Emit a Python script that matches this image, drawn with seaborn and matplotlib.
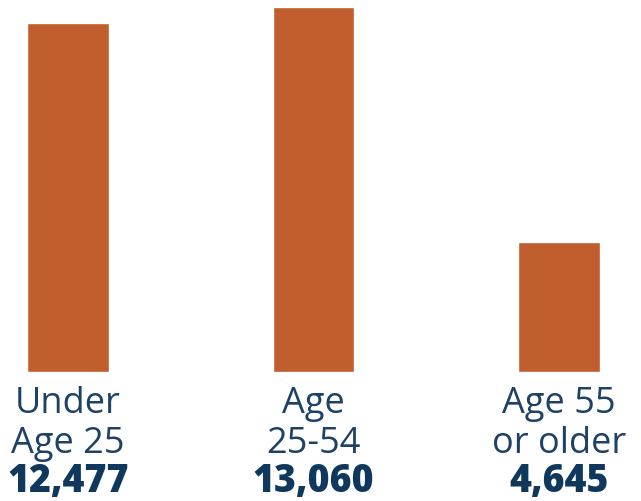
import pandas as pd
import matplotlib.pyplot as plt
import seaborn as sns

# chart data
groups = ["Under\nAge 25", "Age\n25-54", "Age 55\nor older"]
counts = [12477, 13060, 4645]

df = pd.DataFrame({"group": groups, "count": counts})

bar_color = "#c05e2e"
text_color = "#1d4266"
num_color = "#0f385c"

sns.set_style("white")
plt.rcParams["font.family"] = ["Open Sans", "DejaVu Sans"]

fig = plt.figure(figsize=(6.41, 5.02), dpi=100)
ax = fig.add_axes([0, 1 - 373 / 502, 1, 373 / 502])

sns.barplot(data=df, x="group", y="count", color=bar_color, width=0.33,
            saturation=1, ax=ax)

ax.set_xlim(-0.277, 2.334)
ax.set_ylim(0, 13346)
ax.set_xlabel("")
ax.set_ylabel("")
ax.set_xticks([])
ax.set_yticks([])
sns.despine(ax=ax, left=True, bottom=True, top=True, right=True)

trans = ax.get_xaxis_transform()
# baselines below the bar floor, in points (dpi 100 -> 1px = 0.72pt)
line_offsets = [-28.8, -57.6]
num_offset = -85.7
for i, (g, c) in enumerate(zip(groups, counts)):
    for line, off in zip(g.split("\n"), line_offsets):
        ax.annotate(line, xy=(i, 0), xycoords=trans, xytext=(0, off),
                    textcoords="offset points", ha="center", va="baseline",
                    fontsize=26, color=text_color, annotation_clip=False)
    ax.annotate(f"{c:,}", xy=(i, 0), xycoords=trans, xytext=(0, num_offset),
                textcoords="offset points", ha="center", va="baseline",
                fontsize=27, fontweight="heavy", color=num_color,
                annotation_clip=False)

fig.savefig("out.png", dpi=100)
